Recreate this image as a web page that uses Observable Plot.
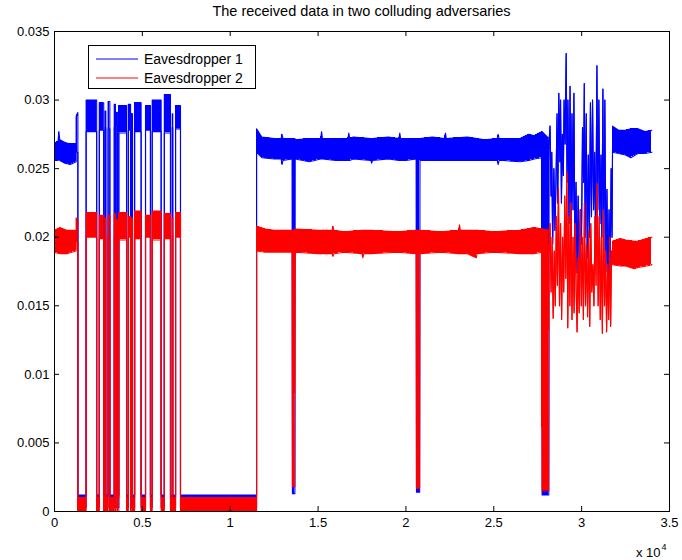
<!DOCTYPE html>
<html>
<head>
<meta charset="utf-8">
<script src="https://cdn.jsdelivr.net/npm/d3@7"></script>
<script src="https://cdn.jsdelivr.net/npm/@observablehq/plot@0.6"></script>
<style>
  html, body { margin: 0; padding: 0; background: #fff; }
  #wrap { position: relative; width: 682px; height: 560px; font-family: "Liberation Sans", Arial, Helvetica, sans-serif; }
  #title { position: absolute; left: 54px; width: 615px; top: 3px; text-align: center; font-size: 14.5px; color: #000; }
  #expo { position: absolute; left: 636px; top: 542px; font-size: 13px; color: #000; white-space: nowrap; }
  #expo sup { font-size: 9px; vertical-align: 7px; margin-left: 1px; }
</style>
</head>
<body>
<div id="wrap">
  <div id="chart"></div>
  <div id="title"></div>
  <div id="expo">x 10<sup>4</sup></div>
</div>
<script>
// ---------------- data ----------------
const titleText = "The received data in two colluding adversaries";
const seriesNames = ["Eavesdropper 1", "Eavesdropper 2"];
const seriesColors = ["#0000ff", "#ff0000"];

const xTicks = [0, 5000, 10000, 15000, 20000, 25000, 30000, 35000];
const xTickLabels = ["0", "0.5", "1", "1.5", "2", "2.5", "3", "3.5"];
const yTicks = [0, 0.005, 0.01, 0.015, 0.02, 0.025, 0.03, 0.035];
const yTickLabels = ["0", "0.005", "0.01", "0.015", "0.02", "0.025", "0.03", "0.035"];

// noise-band envelopes: [x, low, high]
const e1Start = [
  [0, 0.0256, 0.0268], [200, 0.0256, 0.0270], [250, 0.0257, 0.0277], [300, 0.0256, 0.0271],
  [600, 0.0254, 0.0269], [900, 0.0253, 0.0268], [1230, 0.0255, 0.0268],
  [1230, 0.0262, 0.0288], [1330, 0.0262, 0.0291]
];
const e2Start = [
  [0, 0.0189, 0.0205], [300, 0.0188, 0.0207], [700, 0.0188, 0.0205],
  [1230, 0.0190, 0.0205],
  [1230, 0.0196, 0.0214], [1330, 0.0196, 0.0213]
];

// on/off burst section: [start, end, e1 low, e1 high, e2 low, e2 high]
const burstHigh = [
  [1800, 2400, 0.0277, 0.0300, 0.0200, 0.0218],
  [2550, 2800, 0.0278, 0.0298, 0.0199, 0.0216],
  [2880, 2920, 0.0280, 0.0292, 0.0202, 0.0214],
  [3050, 3150, 0.0279, 0.0299, 0.0200, 0.0216],
  [3400, 3470, 0.0280, 0.0297, 0.0201, 0.0217],
  [3550, 3580, 0.0281, 0.0291, 0.0203, 0.0213],
  [3660, 4100, 0.0276, 0.0296, 0.0198, 0.0218],
  [4200, 4330, 0.0278, 0.0297, 0.0200, 0.0215],
  [4400, 4440, 0.0280, 0.0290, 0.0202, 0.0214],
  [4560, 4930, 0.0277, 0.0298, 0.0199, 0.0219],
  [5180, 5460, 0.0278, 0.0296, 0.0200, 0.0216],
  [5560, 6070, 0.0277, 0.0300, 0.0198, 0.0219],
  [6250, 6600, 0.0276, 0.0304, 0.0199, 0.0217],
  [6700, 6730, 0.0280, 0.0290, 0.0202, 0.0214],
  [6890, 7170, 0.0279, 0.0296, 0.0200, 0.0218]
];
const burstLow = { start: 1330, end: 11500, e1: [0.0003, 0.0012], e2: [0.0000, 0.0010] };

const e1Middle = [
  [11500, 0.0262, 0.0279], [11800, 0.0258, 0.0273], [12500, 0.0257, 0.0272],
  [12900, 0.0257, 0.0272], [12950, 0.0253, 0.0275], [13000, 0.0256, 0.0272], [13520, 0.0257, 0.0272],
  [13540, 0.0013, 0.0272], [13680, 0.0013, 0.0272],
  [13700, 0.0257, 0.0271], [14500, 0.0255, 0.0272], [15150, 0.0257, 0.0272],
  [15200, 0.0257, 0.0277], [15250, 0.0257, 0.0272],
  [16000, 0.0256, 0.0272], [16700, 0.0256, 0.0272], [16750, 0.0256, 0.0276], [16800, 0.0256, 0.0272],
  [17000, 0.0257, 0.0273], [18000, 0.0256, 0.0272], [18050, 0.0254, 0.0272], [18100, 0.0256, 0.0272],
  [19000, 0.0257, 0.0273], [19600, 0.0256, 0.0272], [19650, 0.0256, 0.0276], [19700, 0.0256, 0.0272],
  [20000, 0.0256, 0.0272], [20580, 0.0257, 0.0272],
  [20600, 0.0014, 0.0272], [20780, 0.0014, 0.0272],
  [20800, 0.0256, 0.0272], [21500, 0.0256, 0.0273], [22200, 0.0256, 0.0272],
  [22250, 0.0256, 0.0276], [22300, 0.0256, 0.0272], [23500, 0.0256, 0.0273],
  [24500, 0.0256, 0.0271], [25200, 0.0256, 0.0272], [25250, 0.0253, 0.0275], [25300, 0.0256, 0.0272],
  [25500, 0.0256, 0.0272], [26500, 0.0255, 0.0272], [27000, 0.0256, 0.0275], [27300, 0.0257, 0.0274],
  [27730, 0.0258, 0.0277],
  [27750, 0.0012, 0.0277], [28130, 0.0012, 0.0272]
];
const e2Middle = [
  [11500, 0.0190, 0.0208], [12000, 0.0189, 0.0206], [12500, 0.0189, 0.0205], [13520, 0.0189, 0.0205],
  [13540, 0.0018, 0.0205], [13680, 0.0018, 0.0205],
  [13700, 0.0189, 0.0206], [15000, 0.0188, 0.0205], [15800, 0.0188, 0.0205], [15850, 0.0186, 0.0208],
  [15900, 0.0188, 0.0205], [16500, 0.0189, 0.0204], [17500, 0.0188, 0.0205], [17550, 0.0185, 0.0205],
  [17600, 0.0188, 0.0205],
  [18000, 0.0188, 0.0205], [19500, 0.0189, 0.0204], [20580, 0.0188, 0.0205],
  [20600, 0.0017, 0.0205], [20780, 0.0017, 0.0205],
  [20800, 0.0188, 0.0205], [22000, 0.0189, 0.0204], [23000, 0.0188, 0.0205], [23050, 0.0188, 0.0209],
  [23100, 0.0188, 0.0205], [23500, 0.0188, 0.0205], [24000, 0.0185, 0.0205], [24050, 0.0188, 0.0205],
  [25000, 0.0189, 0.0204], [26500, 0.0188, 0.0205], [27300, 0.0188, 0.0207], [27730, 0.0189, 0.0206],
  [27750, 0.0015, 0.0206], [28130, 0.0015, 0.0205]
];

// erratic section: [x, value]
const e1Erratic = [
  [28150, 0.0270], [28200, 0.0281], [28260, 0.0230], [28300, 0.0262], [28350, 0.0195],
  [28420, 0.0250], [28480, 0.0205], [28540, 0.0240], [28600, 0.0290], [28640, 0.0225],
  [28700, 0.0305], [28760, 0.0255], [28800, 0.0300], [28850, 0.0225], [28900, 0.0275],
  [28960, 0.0245], [29000, 0.0300], [29060, 0.0268], [29120, 0.0334], [29170, 0.0240],
  [29220, 0.0300], [29280, 0.0210], [29340, 0.0310], [29400, 0.0195], [29450, 0.0290],
  [29510, 0.0220], [29560, 0.0305], [29620, 0.0185], [29680, 0.0240], [29740, 0.0174],
  [29800, 0.0230], [29860, 0.0178], [29930, 0.0220], [29990, 0.0195], [30050, 0.0280],
  [30110, 0.0240], [30150, 0.0312], [30200, 0.0200], [30260, 0.0290], [30320, 0.0185],
  [30380, 0.0260], [30440, 0.0200], [30500, 0.0298], [30560, 0.0215], [30620, 0.0300],
  [30680, 0.0220], [30740, 0.0262], [30800, 0.0195], [30870, 0.0325], [30920, 0.0220],
  [30980, 0.0300], [31040, 0.0210], [31100, 0.0260], [31150, 0.0200], [31210, 0.0308],
  [31260, 0.0185], [31320, 0.0300], [31380, 0.0175], [31440, 0.0235], [31500, 0.0161],
  [31560, 0.0220], [31620, 0.0175], [31680, 0.0250], [31730, 0.0200], [31760, 0.0270]
];
const e2Erratic = [
  [28150, 0.0190], [28200, 0.0210], [28260, 0.0160], [28320, 0.0200], [28380, 0.0141],
  [28440, 0.0190], [28500, 0.0150], [28560, 0.0215], [28620, 0.0165], [28680, 0.0236],
  [28740, 0.0150], [28800, 0.0210], [28860, 0.0140], [28920, 0.0200], [28980, 0.0160],
  [29040, 0.0230], [29100, 0.0170], [29160, 0.0247], [29210, 0.0134], [29270, 0.0215],
  [29330, 0.0150], [29390, 0.0225], [29450, 0.0140], [29510, 0.0200], [29570, 0.0145],
  [29630, 0.0210], [29690, 0.0160], [29740, 0.0131], [29800, 0.0185], [29860, 0.0145],
  [29920, 0.0220], [29980, 0.0150], [30040, 0.0200], [30100, 0.0140], [30160, 0.0225],
  [30220, 0.0150], [30280, 0.0195], [30340, 0.0142], [30400, 0.0205], [30460, 0.0135],
  [30520, 0.0210], [30580, 0.0160], [30640, 0.0180], [30700, 0.0150], [30760, 0.0215],
  [30820, 0.0165], [30880, 0.0239], [30940, 0.0150], [31000, 0.0215], [31060, 0.0140],
  [31120, 0.0200], [31180, 0.0130], [31240, 0.0220], [31300, 0.0150], [31360, 0.0190],
  [31420, 0.0131], [31480, 0.0180], [31540, 0.0140], [31600, 0.0200], [31650, 0.0135],
  [31700, 0.0190], [31760, 0.0190]
];

const e1End = [
  [31760, 0.0262, 0.0281], [32100, 0.0261, 0.0278], [32500, 0.0260, 0.0278], [32800, 0.0258, 0.0279],
  [33200, 0.0261, 0.0279], [33600, 0.0261, 0.0277], [34000, 0.0262, 0.0278]
];
const e2End = [
  [31760, 0.0180, 0.0197], [32200, 0.0179, 0.0199], [32500, 0.0179, 0.0198], [33000, 0.0177, 0.0197],
  [33200, 0.0178, 0.0197], [33700, 0.0179, 0.0199], [34000, 0.0180, 0.0200]
];

// ---------------- build tables ----------------
function buildSeries(start, k, middle, erratic, end) {
  const rows = [];
  const push = (x, lo, hi) => rows.push({x, lo, hi});
  start.forEach(([x, lo, hi]) => push(x, lo, hi));
  const low = burstLow[k];
  push(burstLow.start, low[0], low[1]);
  burstHigh.forEach(s => {
    const lo = k === "e1" ? s[2] : s[4];
    const hi = k === "e1" ? s[3] : s[5];
    push(s[0], low[0], low[1]);
    push(s[0], lo, hi);
    push(s[1], lo, hi);
    push(s[1], low[0], low[1]);
  });
  push(burstLow.end, low[0], low[1]);
  middle.forEach(([x, lo, hi]) => push(x, lo, hi));
  erratic.forEach(([x, v]) => push(x, v, v));
  end.forEach(([x, lo, hi]) => push(x, lo, hi));
  return rows;
}
const s1 = buildSeries(e1Start, "e1", e1Middle, e1Erratic, e1End);
const s2 = buildSeries(e2Start, "e2", e2Middle, e2Erratic, e2End);

function seriesMarks(rows, color) {
  return [
    Plot.area(rows, {x1: "x", y1: "lo", y2: "hi", fill: color, shapeRendering: "crispEdges"}),
    Plot.line(rows, {x: "x", y: "lo", stroke: color, strokeWidth: 1.1}),
    Plot.line(rows, {x: "x", y: "hi", stroke: color, strokeWidth: 1.1})
  ];
}

const W = 682, H = 560, mL = 54, mR = 13, mT = 31, mB = 49;
const frameW = W - mL - mR, frameH = H - mT - mB;

const chart = Plot.plot({
  width: W, height: H,
  marginLeft: mL, marginRight: mR, marginTop: mT, marginBottom: mB,
  style: {fontFamily: '"Liberation Sans", Arial, Helvetica, sans-serif', fontSize: "13px", color: "#000", background: "#fff"},
  x: {domain: [0, 35000], label: null},
  y: {domain: [0, 0.035], label: null},
  marks: [
    ...seriesMarks(s1, seriesColors[0]),
    ...seriesMarks(s2, seriesColors[1]),
    Plot.axisX(xTicks, {anchor: "bottom", tickSize: 0, tickPadding: 6, tickFormat: d => xTickLabels[xTicks.indexOf(d)], label: null, fontSize: 13}),
    Plot.axisY(yTicks, {anchor: "left", tickSize: 0, tickPadding: 5, tickFormat: d => yTickLabels[yTicks.indexOf(d)], label: null, fontSize: 13}),
    Plot.tickX(xTicks, {x: d => d, insetTop: frameH - 5, stroke: "#000"}),
    Plot.tickX(xTicks, {x: d => d, insetBottom: frameH - 5, stroke: "#000"}),
    Plot.tickY(yTicks, {y: d => d, insetRight: frameW - 5, stroke: "#000"}),
    Plot.tickY(yTicks, {y: d => d, insetLeft: frameW - 5, stroke: "#000"}),
    Plot.frame({stroke: "#000", strokeWidth: 1})
  ]
});
document.getElementById("chart").appendChild(chart);
document.getElementById("title").textContent = titleText;

// legend (inside the axes, top-left)
const ns = "http://www.w3.org/2000/svg";
const lg = document.createElementNS(ns, "svg");
lg.setAttribute("width", 682);
lg.setAttribute("height", 100);
lg.style.position = "absolute"; lg.style.left = "0px"; lg.style.top = "0px";
const box = document.createElementNS(ns, "rect");
box.setAttribute("x", 88.5); box.setAttribute("y", 45.5);
box.setAttribute("width", 167); box.setAttribute("height", 43);
box.setAttribute("fill", "#fff"); box.setAttribute("stroke", "#000"); box.setAttribute("stroke-width", 1);
lg.appendChild(box);
seriesNames.forEach((name, i) => {
  const yy = 59 + i * 19;
  const ln = document.createElementNS(ns, "line");
  ln.setAttribute("x1", 96); ln.setAttribute("x2", 138);
  ln.setAttribute("y1", yy); ln.setAttribute("y2", yy);
  ln.setAttribute("stroke", seriesColors[i]); ln.setAttribute("stroke-width", 1);
  lg.appendChild(ln);
  const tx = document.createElementNS(ns, "text");
  tx.setAttribute("x", 144); tx.setAttribute("y", yy + 5);
  tx.setAttribute("font-size", "14px");
  tx.setAttribute("font-family", '"Liberation Sans", Arial, Helvetica, sans-serif');
  tx.textContent = name;
  lg.appendChild(tx);
});
document.getElementById("wrap").appendChild(lg);
</script>
</body>
</html>
